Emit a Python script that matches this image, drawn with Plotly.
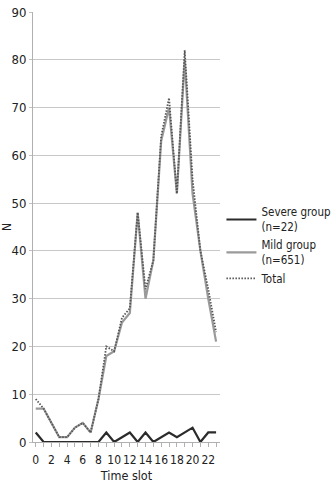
import plotly.graph_objects as go

time_slot = list(range(24))
severe = [2, 0, 0, 0, 0, 0, 0, 0, 0, 2, 0, 1, 2, 0, 2, 0, 1, 2, 1, 2, 3, 0, 2, 2]
mild = [7, 7, 4, 1, 1, 3, 4, 2, 9, 18, 19, 25, 27, 48, 30, 38, 63, 70, 52, 80, 52, 40, 30, 21]
total = [9, 7, 4, 1, 1, 3, 4, 2, 9, 20, 19, 26, 28, 48, 32, 38, 64, 72, 52, 82, 55, 40, 32, 23]
x_tick_labels = [str(v) if v % 2 == 0 else "" for v in time_slot]
y_ticks = list(range(0, 100, 10))

FONT = "Liberation Sans Narrow, DejaVu Sans Condensed, Liberation Sans, Arial, sans-serif"

fig = go.Figure()
fig.add_trace(go.Scatter(x=time_slot, y=severe, mode="lines", name="Severe group<br>(n=22)",
                         line=dict(color="#2b2b2b", width=2.2)))
fig.add_trace(go.Scatter(x=time_slot, y=mild, mode="lines", name="Mild group<br>(n=651)",
                         line=dict(color="#9a9a9a", width=2.2)))
fig.add_trace(go.Scatter(x=time_slot, y=total, mode="lines", name="Total",
                         line=dict(color="#555555", width=1.8, dash="1.5px,1.5px")))

fig.update_layout(
    width=333, height=483,
    margin=dict(l=33, r=113, t=12, b=41),
    paper_bgcolor="white", plot_bgcolor="white",
    font=dict(family=FONT, size=13, color="#222222"),
    legend=dict(xref="container", yref="container", x=0.665, y=0.59,
                xanchor="left", yanchor="top",
                font=dict(family=FONT, size=11.5, color="#222222"),
                bgcolor="rgba(0,0,0,0)", tracegroupgap=0, itemwidth=30),
    showlegend=True,
)
fig.update_xaxes(
    range=[-0.35, 23.5], tickmode="array", tickvals=time_slot, ticktext=x_tick_labels,
    tickangle=0, automargin=False, ticklabelstandoff=3,
    ticks="outside", ticklen=4, tickcolor="#b0b0b0", showgrid=False,
    showline=True, linecolor="#b0b0b0", linewidth=1,
    title=dict(text="Time slot", font=dict(family=FONT, size=12.5), standoff=6),
    tickfont=dict(family=FONT, size=12), zeroline=False,
)
fig.update_yaxes(
    range=[0, 90], tickmode="array", tickvals=y_ticks, automargin=False,
    ticks="outside", ticklen=3, tickcolor="#c0c0c0",
    showgrid=True, gridcolor="#c8c8c8", gridwidth=1,
    showline=True, linecolor="#b0b0b0", linewidth=1,
    title=dict(text="N", font=dict(family=FONT, size=12), standoff=0),
    tickfont=dict(family=FONT, size=13), zeroline=False,
)
fig.write_html("out.html")
